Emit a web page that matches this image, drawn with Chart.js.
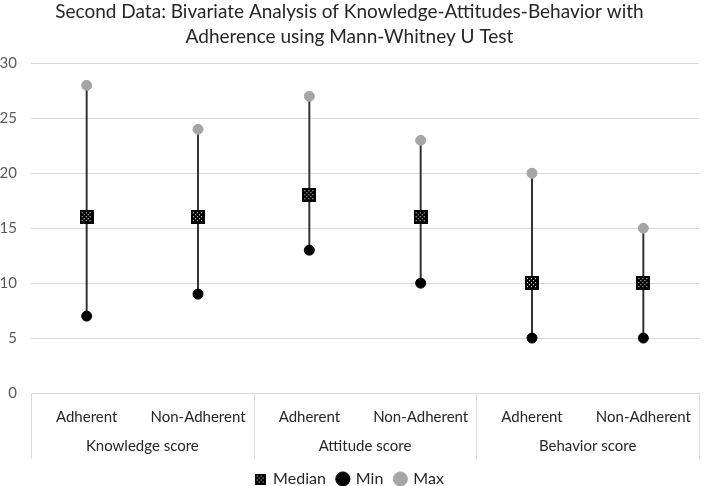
<!DOCTYPE html>
<html>
<head>
<meta charset="utf-8">
<script src="https://cdn.jsdelivr.net/npm/chart.js@4/dist/chart.umd.min.js"></script>
<style>
  html, body { margin: 0; padding: 0; background: #fff; }
  #wrap { width: 709px; height: 486px; }
</style>
</head>
<body>
<div id="wrap"><canvas id="kab-chart"></canvas></div>
<script>
var categories = ["Adherent", "Non-Adherent", "Adherent", "Non-Adherent", "Adherent", "Non-Adherent"];
var groups = ["Knowledge score", "Attitude score", "Behavior score"];
var medianVals = [16, 16, 18, 16, 10, 10];
var minVals = [7, 9, 13, 10, 5, 5];
var maxVals = [28, 24, 27, 23, 20, 15];

// checkered square used for the median marker
function medianMarker(size) {
  var c = document.createElement("canvas");
  c.width = size; c.height = size;
  var ctx = c.getContext("2d");
  ctx.fillStyle = "#000";
  ctx.fillRect(0, 0, size, size);
  ctx.fillStyle = "#fff";
  var row = 0;
  for (var y = 2; y < size - 2; y += 2) {
    for (var x = 2 + (row % 2) * 2; x < size - 2; x += 4) {
      ctx.fillRect(x, y, 1, 1);
    }
    row++;
  }
  return c;
}
var bigMarker = medianMarker(14);
var smallMarker = medianMarker(11);

var rangeVals = minVals.map(function (v, i) { return [v, maxVals[i]]; });

var groupLines = {
  id: "groupLines",
  afterDraw: function (chart) {
    var x = chart.scales.x, x2 = chart.scales.x2, ctx = chart.ctx;
    var half = (x.getPixelForValue(1) - x.getPixelForValue(0)) / 2;
    var top = chart.chartArea.bottom, bottom = x2.bottom;
    ctx.save();
    ctx.strokeStyle = "#d9d9d9";
    ctx.lineWidth = 1;
    [0, 2, 4, 6].forEach(function (i) {
      var px = Math.round(x.getPixelForValue(i) - half) + 0.5;
      ctx.beginPath();
      ctx.moveTo(px, top);
      ctx.lineTo(px, bottom);
      ctx.stroke();
    });
    ctx.restore();
  }
};

new Chart(document.getElementById("kab-chart"), {
  data: {
    labels: categories,
    datasets: [
      {
        type: "scatter",
        label: "Median",
        data: medianVals,
        pointStyle: bigMarker,
        backgroundColor: "#000",
        borderColor: "#000",
        order: 0
      },
      {
        type: "scatter",
        label: "Min",
        data: minVals,
        pointStyle: "circle",
        pointRadius: 5,
        backgroundColor: "#000",
        borderColor: "#000",
        order: 1
      },
      {
        type: "scatter",
        label: "Max",
        data: maxVals,
        pointStyle: "circle",
        pointRadius: 5,
        backgroundColor: "#a5a5a5",
        borderColor: "#a5a5a5",
        order: 2
      },
      {
        type: "bar",
        label: "range",
        data: rangeVals,
        backgroundColor: "#303030",
        barThickness: 1.3,
        order: 3
      }
    ]
  },
  options: {
    responsive: true,
    maintainAspectRatio: false,
    animation: false,
    layout: { padding: { left: 0, right: 10, top: 0, bottom: -11 } },
    plugins: {
      title: {
        display: true,
        text: ["Second Data: Bivariate Analysis of Knowledge-Attitudes-Behavior with",
               "Adherence using Mann-Whitney U Test"],
        color: "#262626",
        font: { family: "Lato", size: 19, weight: "normal", lineHeight: 1.3 },
        padding: { top: 0, bottom: 14 }
      },
      legend: {
        position: "bottom",
        labels: {
          usePointStyle: true,
          color: "#262626",
          font: { family: "Lato", size: 16 },
          boxWidth: 10,
          boxHeight: 10,
          padding: 12,
          filter: function (item) { return item.text !== "range"; },
          generateLabels: function (chart) {
            var items = Chart.defaults.plugins.legend.labels.generateLabels(chart);
            items.forEach(function (it) { if (it.text === "Median") it.pointStyle = smallMarker; });
            return items;
          }
        }
      },
      tooltip: { enabled: false }
    },
    scales: {
      x: {
        type: "category",
        offset: true,
        grid: { display: false, drawTicks: false, tickLength: 0 },
        border: { display: true, color: "#d9d9d9" },
        ticks: { color: "#262626", font: { family: "Lato", size: 15 }, padding: 15, maxRotation: 0 },
        afterFit: function (s) { s.height = 36; }
      },
      x2: {
        type: "category",
        labels: groups,
        position: "bottom",
        offset: true,
        grid: { display: false, drawTicks: false, tickLength: 0 },
        border: { display: false },
        ticks: { color: "#262626", font: { family: "Lato", size: 15 }, padding: 8 },
        afterFit: function (s) { s.height = 30; }
      },
      y: {
        min: 0,
        max: 30,
        ticks: { stepSize: 5, color: "#595959", font: { family: "Lato", size: 15 }, padding: 14 },
        grid: { color: "#d9d9d9", drawTicks: false },
        border: { display: false },
        afterFit: function (s) { s.width = 31; }
      }
    }
  },
  plugins: [groupLines]
});
</script>
</body>
</html>
